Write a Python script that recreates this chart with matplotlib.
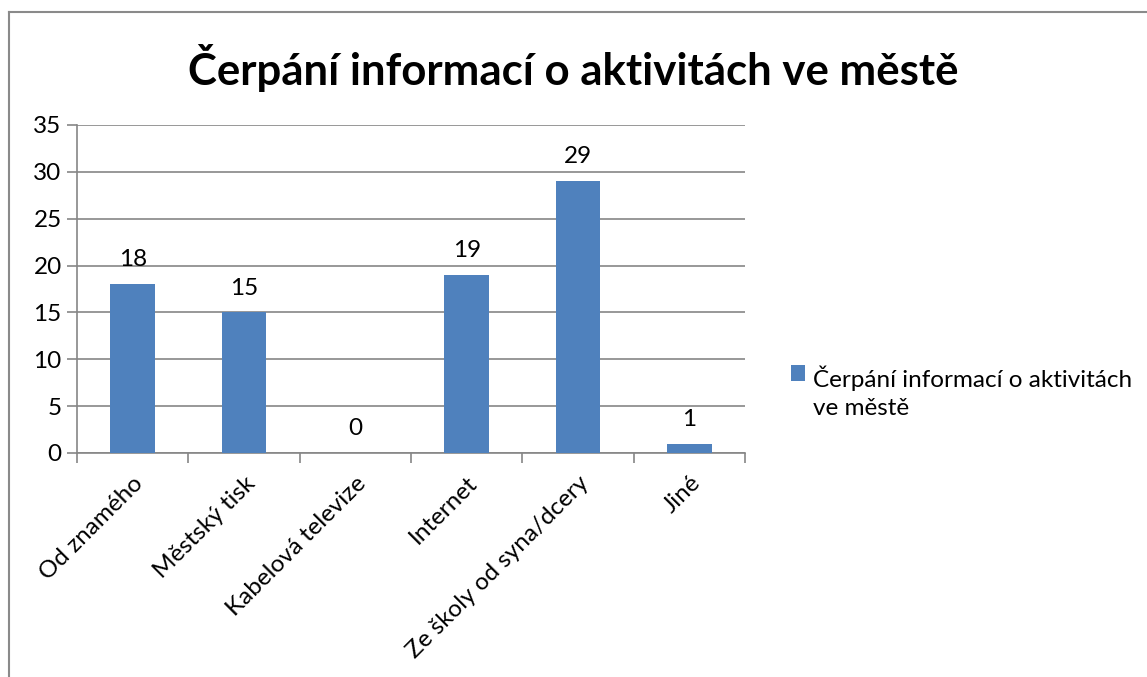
import matplotlib
matplotlib.use("Agg")
import matplotlib.pyplot as plt
from matplotlib.lines import Line2D

categories = ["Od znamého", "Městský tisk", "Kabelová televize", "Internet",
              "Ze školy od syna/dcery", "Jiné"]
values = [18, 15, 0, 19, 29, 1]
series_name = "Čerpání informací o aktivitách ve městě"
legend_label = "Čerpání informací o aktivitách\nve městě"
yticks = [0, 5, 10, 15, 20, 25, 30, 35]

plt.rcParams['font.family'] = ['Lato', 'DejaVu Sans']

fig = plt.figure(figsize=(11.47, 6.77), dpi=100)
ax = fig.add_axes([0.0671, 0.3309, 0.6495 - 0.0671, 0.8154 - 0.3309])

bar_color = "#4F81BD"
grid_color = "#868686"
fs = 17.5
x = list(range(len(categories)))
bars = ax.bar(x, values, width=0.4, color=bar_color, label=legend_label, zorder=3)

ax.set_xlim(-0.5, len(categories) - 0.5)
ax.set_ylim(0, 35)
ax.set_yticks(yticks)
ax.set_yticklabels([str(t) for t in yticks], fontsize=fs)
ax.yaxis.grid(True, color=grid_color, linewidth=1.2, zorder=0)
ax.set_axisbelow(True)

# x ticks at category boundaries
ax.set_xticks([i - 0.5 for i in range(len(categories) + 1)])
ax.set_xticklabels([])
ax.set_xticks(x, minor=True)
ax.set_xticklabels(categories, minor=True, rotation=45, ha='right',
                   rotation_mode='anchor', fontsize=fs)
ax.tick_params(axis='x', which='minor', length=0, pad=14)
ax.tick_params(axis='x', which='major', length=7, width=1.2, color=grid_color)
ax.tick_params(axis='y', length=7, width=1.2, color=grid_color, pad=4)

for s in ['top', 'right']:
    ax.spines[s].set_visible(False)
for s in ['left', 'bottom']:
    ax.spines[s].set_color(grid_color)
    ax.spines[s].set_linewidth(1.2)

for b, v in zip(bars, values):
    ax.annotate(str(v), (b.get_x() + b.get_width() / 2, v),
                xytext=(0, 10), textcoords='offset points',
                ha='center', va='bottom', fontsize=fs)

fig.text(0.5, 0.9, series_name, ha='center', va='center',
         fontsize=31.5, fontweight='bold')

leg = fig.legend(handles=[bars], labels=[legend_label], loc='upper left',
                 bbox_to_anchor=(0.681, 0.475), frameon=False, fontsize=fs,
                 handlelength=0.6, handleheight=0.6, handletextpad=0.3,
                 borderaxespad=0, labelspacing=0.2)
for t in leg.get_texts():
    t.set_linespacing(1.45)
try:
    for col in leg._legend_handle_box.get_children():
        for row in col.get_children():
            row.align = "top"
except Exception:
    pass

# outer chart border (left and top visible)
fig.add_artist(Line2D([0.0075, 0.0075], [0.0, 0.9823], color="#8a8a8a",
                      linewidth=1.5, transform=fig.transFigure))
fig.add_artist(Line2D([0.0075, 1.0], [0.9823, 0.9823], color="#8a8a8a",
                      linewidth=1.5, transform=fig.transFigure))

fig.savefig("out.png", dpi=100)
